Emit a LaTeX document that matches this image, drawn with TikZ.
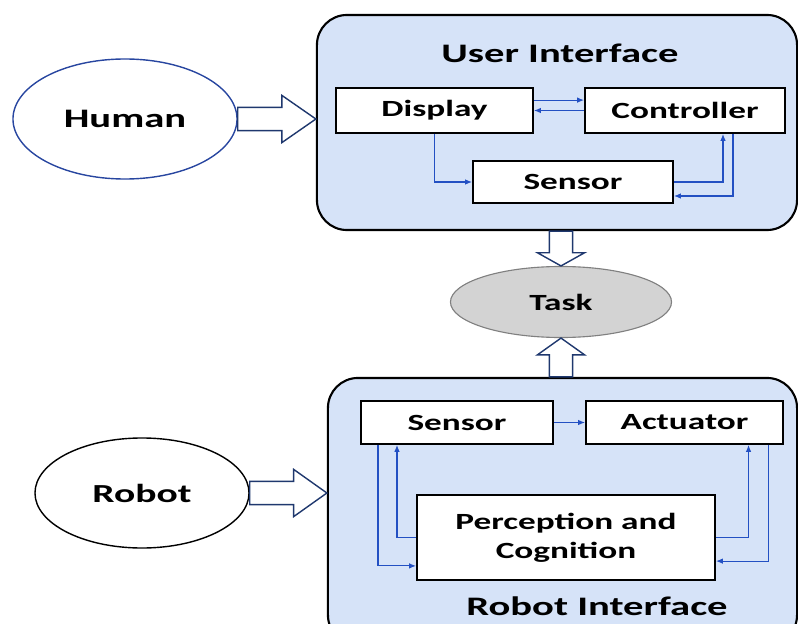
\documentclass[tikz,border=0pt]{standalone}
\usepackage{fontspec}
\newfontfamily\diafont[FakeStretch=1.52]{Carlito}
\usetikzlibrary{positioning,calc,shapes.geometric,arrows.meta}
\definecolor{panelblue}{RGB}{214,227,248}
\definecolor{linkblue}{RGB}{35,80,195}
\definecolor{navyline}{RGB}{31,56,110}
\definecolor{humanblue}{RGB}{40,70,160}
\definecolor{taskgray}{RGB}{211,211,211}
\tikzset{
  ifacebox/.style={draw=black, line width=1.5pt, fill=panelblue, rounded corners=0.75cm},
  ifacetitle/.style={font=\diafont\bfseries\fontsize{19}{22}\selectfont, inner sep=0pt},
  partbox/.style={draw=black, line width=1.3pt, fill=white, align=center, inner sep=0pt,
                  font=\diafont\bfseries\fontsize{16.5}{20.5}\selectfont},
  agent/.style={ellipse, line width=1pt, fill=white, inner sep=0pt,
                font=\diafont\bfseries\fontsize{19}{22}\selectfont},
  sigline/.style={-{Latex[length=5pt,width=4pt]}, draw=linkblue, line width=0.8pt},
  blkarrow/.style={draw=navyline, line width=1pt, fill=white, line join=miter},
}
\newcommand{\fatarrow}[3]{%
  \coordinate (hb) at ($(#2)!#3!(#1)$);
  \draw[blkarrow] ($(#1)!0.29cm!90:(#2)$) -- ($(hb)!0.29cm!90:(#2)$) -- ($(hb)!0.59cm!90:(#2)$)
    -- (#2) -- ($(hb)!0.59cm!-90:(#2)$) -- ($(hb)!0.29cm!-90:(#2)$) -- ($(#1)!0.29cm!-90:(#2)$) -- cycle;}

\begin{document}
\begin{tikzpicture}[x=0.025cm, y=-0.025cm]
    \useasboundingbox (0,0) rectangle (798,624);
    \clip (0,0) rectangle (798,624);

      \node[ifacebox, minimum width=12cm, minimum height=5.375cm] (ui) at (557,122.5) {};
      \node[ifacetitle] (uititle) at (560,53) {User Interface};
      \node[partbox, minimum width=4.925cm, minimum height=1.125cm] (display) at (434.5,110.5) {Display};
      \node[partbox, minimum width=5cm, minimum height=1.125cm] (controller) at (685,110.5) {Controller};
      \node[partbox, minimum width=5cm, minimum height=1.05cm] (uisensor) at (573,182) {Sensor};

      \node[agent, draw=humanblue, minimum width=5.6cm, minimum height=3cm] (human) at (125,119) {Human};
      \node[agent, draw=black, minimum width=5.35cm, minimum height=2.75cm,
            font=\diafont\bfseries\fontsize{18.5}{22}\selectfont] (robot) at (142,493) {Robot};
      \node[ellipse, draw=gray, fill=taskgray, line width=0.8pt, minimum width=5.525cm, minimum height=1.775cm,
            font=\diafont\bfseries\fontsize{16.5}{20}\selectfont] (task) at (561,302) {Task};

      \node[ifacebox, minimum width=11.725cm, minimum height=6.675cm] (rbox) at (562.5,511.5) {};
      \node[ifacetitle] (rbtitle) at (597,606) {Robot Interface};
      \node[partbox, minimum width=4.8cm, minimum height=1.075cm] (rsensor) at (457,422.5) {Sensor};
      \node[partbox, minimum width=4.925cm, minimum height=1.075cm] (actuator) at (684.5,422.5) {Actuator};
      \node[partbox, minimum width=7.45cm, minimum height=2.125cm] (perception) at (566,537.5) {Perception and\\Cognition};

      \draw[sigline] ([yshift=0.26cm]display.east) -- ([yshift=0.26cm]controller.west);
      \draw[sigline] (controller.west) -- (display.east);
      \draw[sigline] (display.south) |- (uisensor.west);
      \draw[sigline] (uisensor.east) -| ([xshift=0.95cm]controller.south);
      \draw[sigline] ([xshift=1.2cm]controller.south) |- ([yshift=-0.35cm]uisensor.east);

      \draw[sigline] (rsensor.east) -- (actuator.west);
      \draw[sigline] ([xshift=-1.975cm]rsensor.south) |- ([yshift=-0.71cm]perception.west);
      \draw[sigline] (perception.west) -| ([xshift=-1.5cm]rsensor.south);
      \draw[sigline] (perception.east) -| ([xshift=1.6cm]actuator.south);
      \draw[sigline] ([xshift=2.1cm]actuator.south) |- ([yshift=-0.59cm]perception.east);

      \coordinate (humantip) at (human.east -| ui.west);
      \coordinate (robottip) at (robot.east -| rbox.west);
      \coordinate (uiout) at (task.north |- ui.south);
      \coordinate (rbout) at (task.south |- rbox.north);
      \fatarrow{human.east}{humantip}{0.85cm}
      \fatarrow{robot.east}{robottip}{0.83cm}
      \fatarrow{uiout}{task.north}{0.33cm}
      \fatarrow{rbout}{task.south}{0.42cm}

    \end{tikzpicture}
\end{document}
